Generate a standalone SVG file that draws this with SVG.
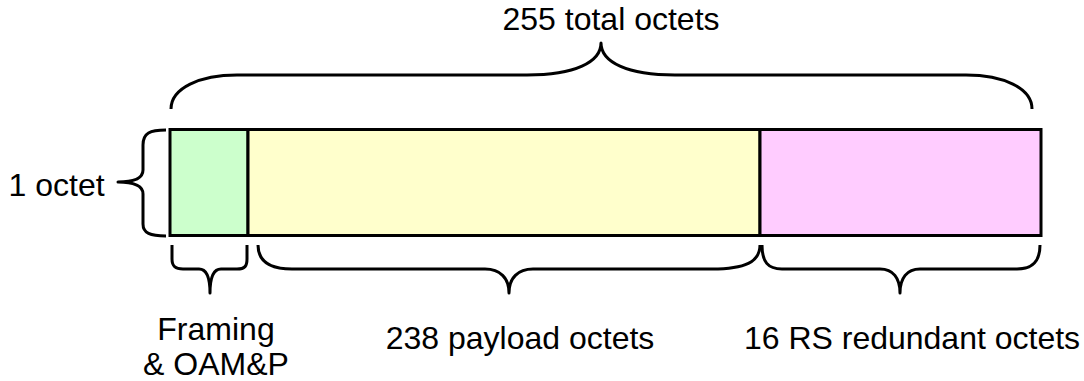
<svg xmlns="http://www.w3.org/2000/svg" width="1084" height="381" viewBox="0 0 1084 381">
<style>
.t{font-family:"Liberation Sans",Arial,sans-serif;font-size:32px;fill:#000}
.m{text-anchor:middle}
.cell{stroke:#000;stroke-width:3}
.brace{fill:none;stroke:#000;stroke-width:3;stroke-linecap:butt;stroke-linejoin:round}
</style>
<rect width="1084" height="381" fill="#fff"/>
<g id="frame">
<rect id="framing" class="cell" x="170" y="129.5" width="78" height="106" fill="#CCFFCC"/>
<rect id="payload" class="cell" x="248" y="129.5" width="512" height="106" fill="#FFFFCC"/>
<rect id="rs" class="cell" x="760" y="129.5" width="281" height="106" fill="#FFCCFF"/>
</g>
<g id="connectors">
<path id="brace-total" class="brace" d="M171,109 C171,88 200,75 237,75 L527,75 C575,75 601,62 601,43 C601,62 627,75 675,75 L966,75 C1003,75 1032,88 1032,109"/>
<path id="brace-octet" class="brace" d="M166,130 C150,130 143,133 143,145 L143,170 C143,178 135,182 118,182 C135,182 143,186 143,194 L143,224 C143,233 150,236 166,236"/>
<path id="brace-framing" class="brace" d="M172,245 L172,259 C172,266 175,269 183,269 L199,269 C206,269 210,275 210,293 C210,275 214,269 221,269 L237,269 C245,269 247,266 247,259 L247,245"/>
<path id="brace-payload" class="brace" d="M258,245 C258,262 270,269 292,269 L485,269 C500,269 509,278 509,293 C509,278 518,269 533,269 L712,269 C745,269 760,262 760,245"/>
<path id="brace-rs" class="brace" d="M762,245 C762,262 768,269 782,269 L880,269 C893,269 900,278 900,293 C900,278 907,269 920,269 L1017,269 C1032,269 1040,262 1040,245"/>
</g>
<g id="labels">
<text class="t m" x="611" y="30">255 total octets</text>
<text class="t" x="8.5" y="196">1 octet</text>
<text class="t m" x="216" y="340">Framing</text>
<text class="t m" x="216" y="375">&amp; OAM&amp;P</text>
<text class="t m" x="520" y="349">238 payload octets</text>
<text class="t m" x="912" y="349">16 RS redundant octets</text>
</g>
</svg>
